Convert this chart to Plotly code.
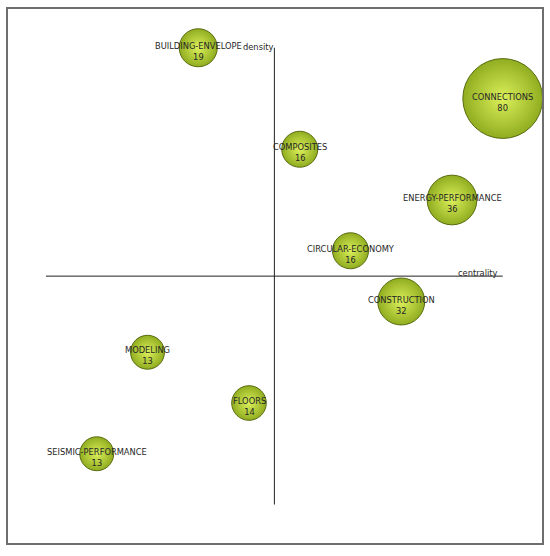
import plotly.graph_objects as go

# strategic diagram: themes placed by rank of centrality (x) and density (y)
themes = ['BUILDING-ENVELOPE', 'CONNECTIONS', 'COMPOSITES', 'ENERGY-PERFORMANCE',
          'CIRCULAR-ECONOMY', 'CONSTRUCTION', 'MODELING', 'FLOORS', 'SEISMIC-PERFORMANCE']
centrality_rank = [3, 9, 5, 8, 6, 7, 2, 4, 1]
density_rank = [9, 8, 7, 6, 5, 4, 3, 2, 1]
documents = [19, 80, 16, 36, 16, 32, 13, 14, 13]

W, H = 550, 556
step = 50.75
x0_px, y0_px = 46, 504.5  # pixel of rank 0
x_range = [-x0_px / step, (W - x0_px) / step]
y_range = [(y0_px - H) / step, y0_px / step]

sizes = [2 * (12.5 + 0.343 * v) for v in documents]
font = dict(family='DejaVu Sans', size=8.3, color='#262626')

fig = go.Figure()
fig.add_trace(go.Scatter(
    x=centrality_rank, y=density_rank,
    mode='markers',
    marker=dict(size=sizes, color='#90ad20',
                gradient=dict(type='radial', color='#dcf05a'),
                line=dict(color='#586c10', width=1), opacity=1),
    hoverinfo='skip'
))

# bubble labels, slightly below centre like the original
for t, v, cx, cy in zip(themes, documents, centrality_rank, density_rank):
    fig.add_annotation(x=cx, y=cy, text=t + '<br>' + str(v), showarrow=False,
                       xanchor='center', yanchor='middle', yshift=-3.5, font=font)

mid = 4.5
# axes of the diagram
fig.add_shape(type='line', x0=0, x1=9, y0=mid, y1=mid, line=dict(color='#222222', width=1))
fig.add_shape(type='line', x0=mid, x1=mid, y0=0, y1=9, line=dict(color='#222222', width=1))
fig.add_annotation(x=mid, y=9, text='density', showarrow=False, xanchor='right', yanchor='middle',
                   xshift=2, yshift=1, font=font)
fig.add_annotation(x=9, y=mid, text='centrality', showarrow=False, xanchor='right', yanchor='bottom',
                   xshift=-3, yshift=-4, font=font)

# frame
fig.add_shape(type='rect', xref='paper', yref='paper',
              x0=7 / W, x1=543 / W, y0=1 - 544 / H, y1=1 - 8 / H,
              line=dict(color='#6e6e6e', width=2))

fig.update_xaxes(range=x_range, visible=False, fixedrange=True)
fig.update_yaxes(range=y_range, visible=False, fixedrange=True)
fig.update_layout(width=W, height=H, margin=dict(l=0, r=0, t=0, b=0),
                  plot_bgcolor='white', paper_bgcolor='white', showlegend=False)

fig.write_html("out.html", config={'displayModeBar': False},
               post_script="document.body.style.margin='0';")
